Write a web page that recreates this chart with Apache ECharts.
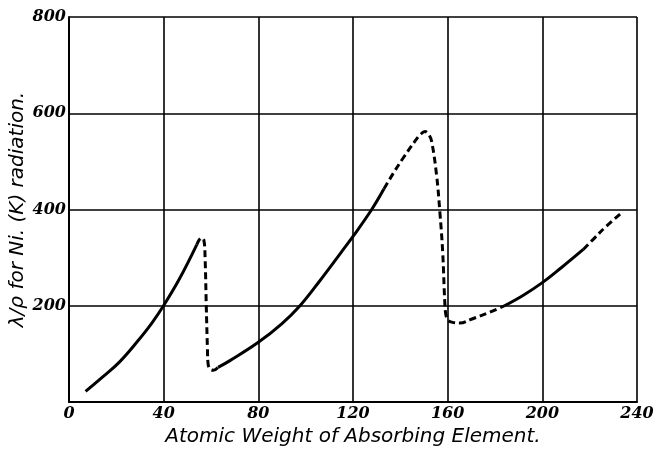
<!DOCTYPE html>
<html>
<head>
<meta charset="utf-8">
<title>Absorption vs atomic weight</title>
<script src="https://cdn.jsdelivr.net/npm/echarts@6/dist/echarts.min.js"></script>
<style>
  html, body { margin: 0; padding: 0; background: #fff; }
  #main { width: 654px; height: 449px; }
</style>
</head>
<body>
<div id="main"></div>
<script type="text/javascript">
// tick labels
var xTicks = [0, 40, 80, 120, 160, 200, 240];
var yTicks = [200, 400, 600, 800];

// curve pieces, [atomic weight, lambda/rho]
var solidA = [[7, 22], [14, 51], [21.5, 84], [28.6, 124], [35, 164], [40.2, 202], [46.8, 257], [54, 327]];
var dashA = [[54, 327], [55, 337], [56, 341], [57, 336], [57.5, 300], [58, 200], [58.5, 110], [58.8, 78], [60, 67], [61, 66], [63, 72]];
var solidB = [[63, 72], [68, 86], [80, 124], [90, 163], [97.6, 200], [106, 252], [115, 311], [120, 344], [127.9, 400], [133.1, 443]];
var dashB = [[133.1, 443], [137, 475], [141.2, 507], [146.2, 542], [148.5, 556], [150.4, 562], [152, 556], [153.2, 542], [155.3, 472],
  [156.7, 395], [157.9, 311], [158.8, 206], [159.3, 180], [160.2, 170], [161.7, 166], [165.2, 164], [170, 172], [177, 185], [184, 200]];
var solidC = [[184, 200], [192, 222], [200, 248], [208, 279], [217.3, 317]];
var dashC = [[217.3, 317], [221.5, 338], [227, 365], [233.5, 393]];

var chart = echarts.init(document.getElementById('main'));

function piece(data, dashed) {
  return {
    type: 'line',
    data: data,
    showSymbol: false,
    smooth: 0.4,
    lineStyle: {
      color: '#000',
      width: 3,
      type: dashed ? [7, 4] : 'solid'
    },
    animation: false
  };
}

var tickFont = {
  color: '#000',
  fontFamily: 'DejaVu Serif',
  fontStyle: 'italic',
  fontWeight: 'bold',
  fontSize: 16
};

var titleFont = { color: '#000', fontFamily: 'DejaVu Sans', fontStyle: 'italic', fontSize: 20 };

var option = {
  backgroundColor: '#fff',
  grid: { left: 69, right: 17, top: 17, bottom: 47, containLabel: false, outerBoundsMode: 'none' },
  xAxis: {
    type: 'value',
    min: 0, max: 240, interval: 40,
    name: 'Atomic Weight of Absorbing Element.',
    nameLocation: 'middle',
    nameGap: 25,
    nameTextStyle: titleFont,
    axisLine: { show: true, lineStyle: { color: '#000', width: 2 } },
    axisTick: { show: false },
    axisLabel: Object.assign({ margin: 4, formatter: function (v) { return xTicks.indexOf(v) >= 0 ? String(v) : ''; } }, tickFont),
    splitLine: { show: true, lineStyle: { color: '#000', width: 1.6 } }
  },
  yAxis: {
    type: 'value',
    min: 0, max: 800, interval: 200,
    name: 'λ/ρ for Ni. (K) radiation.',
    nameLocation: 'middle',
    nameGap: 41,
    nameMoveOverlap: false,
    nameTextStyle: titleFont,
    axisLine: { show: true, lineStyle: { color: '#000', width: 2 } },
    axisTick: { show: false },
    axisLabel: Object.assign({ margin: 3, formatter: function (v) { return yTicks.indexOf(v) >= 0 ? String(v) : ''; } }, tickFont),
    splitLine: { show: true, lineStyle: { color: '#000', width: 1.6 } }
  },
  series: [
    piece(solidA, false), piece(dashA, true),
    piece(solidB, false), piece(dashB, true),
    piece(solidC, false), piece(dashC, true)
  ]
};
chart.setOption(option);
</script>
</body>
</html>
